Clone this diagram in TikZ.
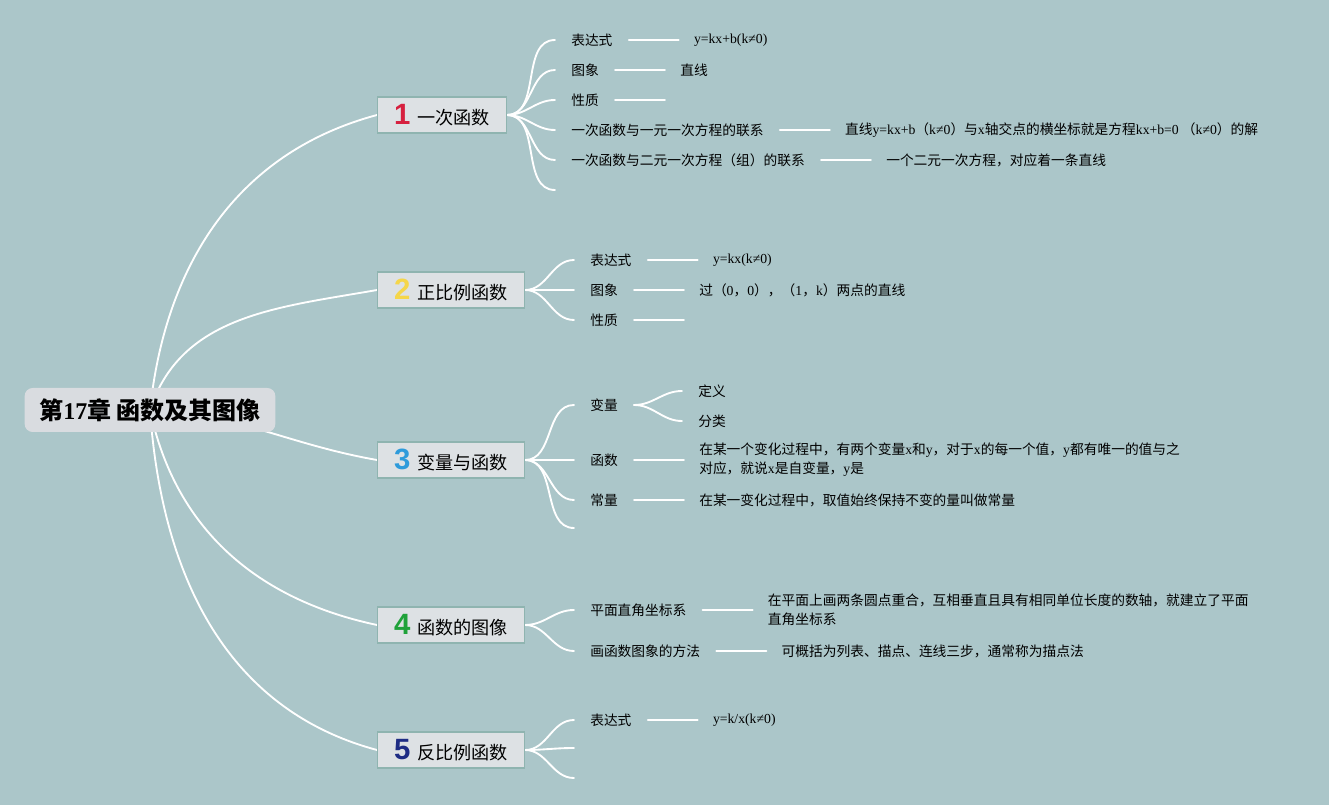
\documentclass[tikz,border=0pt]{standalone}
\usepackage{fontspec}
\setmainfont{Liberation Serif}
\setsansfont{Liberation Sans}
\newfontfamily\cjk{Noto Sans CJK SC}
\usetikzlibrary{positioning}
\pgfdeclarelayer{bg}\pgfsetlayers{bg,main}
\definecolor{mapbg}{HTML}{ABC6C9}
\definecolor{boxfill}{HTML}{DDE1E4}
\definecolor{boxline}{HTML}{8FB4B0}
\definecolor{rootfill}{HTML}{D9DCE0}
\definecolor{nr1}{HTML}{D6203F}
\definecolor{nr2}{HTML}{F5D64A}
\definecolor{nr3}{HTML}{2E9BDB}
\definecolor{nr4}{HTML}{1FA23A}
\definecolor{nr5}{HTML}{1E2C84}
\newcommand{\lt}[1]{{\rmfamily #1}}
\newcommand{\nr}[2]{{\color{#1}\sffamily\bfseries\fontsize{22}{22}\selectfont #2}\hspace{5pt}}
\tikzset{
  rootbox/.style={fill=rootfill,rounded corners=6pt,minimum width=188pt,minimum height=33pt,font=\cjk\fontsize{18}{20}\selectfont\bfseries},
  topic/.style={draw=boxline,fill=boxfill,line width=1pt,anchor=west,minimum height=27pt,inner xsep=12.4pt,inner ysep=0pt,font=\cjk\fontsize{13.6}{16}\selectfont},
  sub/.style={anchor=west,inner xsep=12pt,inner ysep=2pt,font=\cjk\fontsize{10.3}{14.2}\selectfont},
  detail/.style={inner xsep=11.25pt,inner ysep=2pt,align=left,font=\cjk\fontsize{10.3}{14.2}\selectfont},
  branch/.style={white,line width=1.4pt,line cap=round},
}
\begin{document}
\begin{tikzpicture}[x=.75pt,y=-.75pt,node distance=37.5pt]
\node[rootbox] (root) at (150,410) {第\lt{17}章 函数及其图像};
\node[topic] (t1) at (377,115) {\nr{nr1}{1}一次函数};
\node[topic] (t2) at (377,290) {\nr{nr2}{2}正比例函数};
\node[topic] (t3) at (377,460) {\nr{nr3}{3}变量与函数};
\node[topic] (t4) at (377,625) {\nr{nr4}{4}函数的图像};
\node[topic] (t5) at (377,750) {\nr{nr5}{5}反比例函数};
% 1 一次函数
\node[sub] (a1) at (555,40) {表达式};
\node[sub] (a2) at (555,70) {图象};
\node[sub] (a3) at (555,100) {性质};
\node[sub] (a4) at (555,130) {一次函数与一元一次方程的联系};
\node[sub] (a5) at (555,160) {一次函数与二元一次方程（组）的联系};
\coordinate (a6) at (555,190);
\node[detail,right=of a1] (b1) {\lt{y=kx+b(k≠0)}};
\node[detail,right=of a2] (b2) {直线};
\coordinate (b3) at ([xshift=37.5pt]a3.east);
\node[detail,right=of a4] (b4) {直线\lt{y=kx+b}（\lt{k≠0}）与\lt{x}轴交点的横坐标就是方程\lt{kx+b=0} （\lt{k≠0}）的解};
\node[detail,right=of a5] (b5) {一个二元一次方程，对应着一条直线};
% 2 正比例函数
\node[sub] (c1) at (574,260) {表达式};
\node[sub] (c2) at (574,290) {图象};
\node[sub] (c3) at (574,320) {性质};
\node[detail,right=of c1] (e1) {\lt{y=kx(k≠0)}};
\node[detail,right=of c2] (e2) {过（\lt{0}，\lt{0}），（\lt{1}，\lt{k}）两点的直线};
\coordinate (e3) at ([xshift=37.5pt]c3.east);
% 3 变量与函数
\node[sub] (f1) at (574,405) {变量};
\node[sub] (f2) at (574,460) {函数};
\node[sub] (f3) at (574,500) {常量};
\coordinate (f4) at (574,528);
\node[sub] (h1) at (682,391) {定义};
\node[sub] (h2) at (682,421) {分类};
\node[detail,right=of f2] (g2) {在某一个变化过程中，有两个变量\lt{x}和\lt{y}，对于\lt{x}的每一个值，\lt{y}都有唯一的值与之\\对应，就说\lt{x}是自变量，\lt{y}是};
\node[detail,right=of f3] (g3) {在某一变化过程中，取值始终保持不变的量叫做常量};
% 4 函数的图像
\node[sub] (k1) at (574,610) {平面直角坐标系};
\node[sub] (k2) at (574,651) {画函数图象的方法};
\node[detail,right=of k1] (m1) {在平面上画两条圆点重合，互相垂直且具有相同单位长度的数轴，就建立了平面\\直角坐标系};
\node[detail,right=of k2] (m2) {可概括为列表、描点、连线三步，通常称为描点法};
% 5 反比例函数
\node[sub] (n1) at (574,720) {表达式};
\coordinate (n2) at (574,748);
\coordinate (n3) at (574,778);
\node[detail,right=of n1] (p1) {\lt{y=k/x(k≠0)}};
\begin{pgfonlayer}{bg}
\fill[mapbg] (0,0) rectangle (1329,805);
\draw[branch] (root.center) to[out=84,in=195] (t1.west);
\draw[branch] (root.center) to[out=72,in=190] (t2.west);
\draw[branch] (root.center) to[out=-3,in=170] (t3.west);
\draw[branch] (root.center) to[out=-78,in=168] (t4.west);
\draw[branch] (root.center) to[out=-86,in=165] (t5.west);
\foreach \s in {a1,a2,a3,a4,a5,a6}\draw[branch] (t1.east) to[out=0,in=180] (\s);
\foreach \s in {c1,c2,c3}\draw[branch] (t2.east) to[out=0,in=180] (\s.west);
\foreach \s in {f1,f2,f3,f4}\draw[branch] (t3.east) to[out=0,in=180] (\s);
\foreach \s in {k1,k2}\draw[branch] (t4.east) to[out=0,in=180] (\s.west);
\foreach \s in {n1,n2,n3}\draw[branch] (t5.east) to[out=0,in=180] (\s);
\foreach \s in {h1,h2}\draw[branch] (f1.east) to[out=0,in=180] (\s.west);
\foreach \s/\d in {a1/b1,a2/b2,a3/b3,a4/b4,a5/b5,c1/e1,c2/e2,c3/e3,f2/g2,f3/g3,k1/m1,k2/m2,n1/p1}\draw[branch] (\s.east) -- (\d);
\end{pgfonlayer}
\end{tikzpicture}
\end{document}
